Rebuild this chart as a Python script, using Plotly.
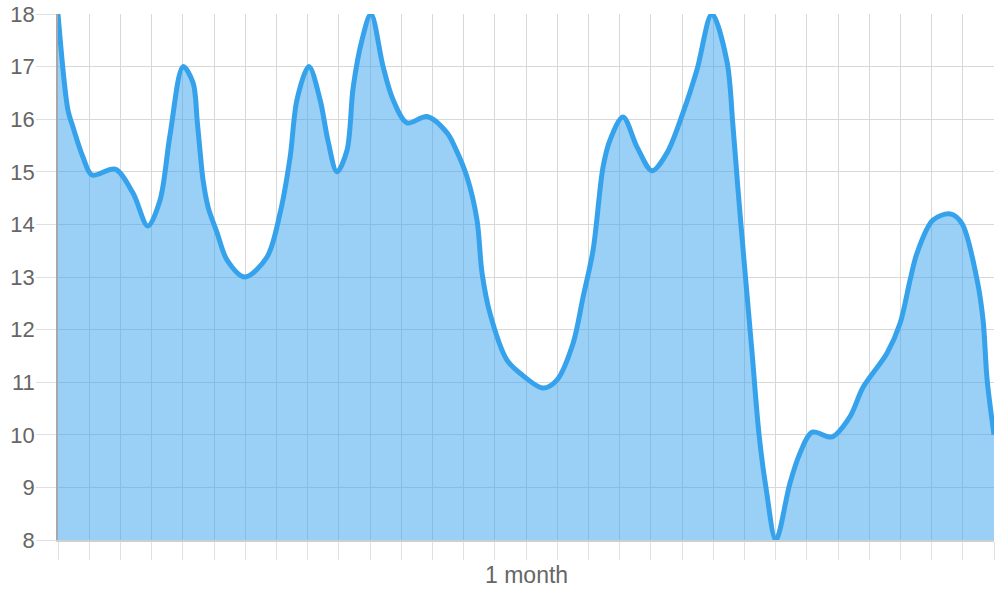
import plotly.graph_objects as go

# x positions in days (0 .. 30, one month)
days = [0, 0.32, 0.48, 0.80, 1.09, 1.83, 2.40, 2.88, 3.27, 3.59,
        4.01, 4.33, 4.46, 4.55, 4.65, 4.81, 5.10, 5.42, 5.99, 6.70,
        7.12, 7.44, 7.66, 8.04, 8.40, 8.65, 8.94, 9.26, 9.46, 9.74,
        10.03, 10.42, 10.74, 11.19, 11.83, 12.47, 12.72, 13.11, 13.43, 13.59,
        13.85, 14.39, 14.81, 15.54, 15.99, 16.51, 16.83, 17.15, 17.47, 17.69,
        18.11, 18.56, 19.04, 19.52, 20.03, 20.48, 20.96, 21.44, 21.63, 21.79,
        21.99, 22.24, 22.47, 22.69, 23.01, 23.46, 23.78, 24.17, 24.81, 25.38,
        25.80, 26.57, 26.99, 27.31, 27.53, 28.04, 28.59, 28.97, 29.46, 29.65,
        29.78, 30.0]
values = [18.0, 16.17, 15.85, 15.28, 14.94, 15.05, 14.6, 13.97, 14.46, 15.7,
          17.0, 16.69, 15.98, 15.41, 14.84, 14.33, 13.84, 13.32, 13.0, 13.38,
          14.22, 15.28, 16.37, 17.0, 16.37, 15.6, 15.0, 15.4, 16.6, 17.5,
          18.0, 17.0, 16.37, 15.93, 16.05, 15.74, 15.47, 14.9, 14.08, 13.08,
          12.3, 11.42, 11.17, 10.89, 11.04, 11.74, 12.62, 13.51, 15.09, 15.6,
          16.04, 15.47, 15.02, 15.36, 16.12, 16.94, 18.0, 17.1, 15.9, 14.7,
          13.3, 11.6, 10.0, 9.0, 8.0, 9.08, 9.65, 10.05, 9.96, 10.34,
          10.9, 11.55, 12.12, 12.94, 13.45, 14.08, 14.2, 14.02, 12.94, 12.18,
          11.04, 10.0]

x_title = "1 month"

fig = go.Figure()
fig.add_trace(go.Scatter(
    x=days, y=values, mode="lines",
    line=dict(color="rgb(54,162,235)", width=5, shape="spline", smoothing=0.9),
    fill="tozeroy", fillcolor="rgba(54,162,235,0.5)",
    hoverinfo="skip", showlegend=False, cliponaxis=False,
))

fig.update_layout(
    width=1000, height=600,
    margin=dict(l=58, r=6, t=14, b=60, autoexpand=False),
    paper_bgcolor="white", plot_bgcolor="white",
    font=dict(family="Liberation Sans, Arial, sans-serif", size=22, color="#666"),
    xaxis=dict(range=[0, 30], tick0=0, dtick=1, showticklabels=False, automargin=False,
               showgrid=True, gridcolor="#d8d8d8", gridwidth=1,
               ticks="outside", ticklen=18, tickcolor="#e0e0e0", tickwidth=1,
               showline=True, linecolor="#cfcfcf", linewidth=1.5, zeroline=False),
    yaxis=dict(range=[8, 18], tick0=8, dtick=1, automargin=False,
               showgrid=True, gridcolor="#d8d8d8", gridwidth=1,
               ticks="outside", ticklen=20, tickcolor="#e0e0e0", tickwidth=1,
               ticklabelstandoff=-3,
               showline=True, linecolor="#a8a8a8", linewidth=1.5, zeroline=False,
               tickfont=dict(size=22, color="#666")),
    annotations=[dict(text=x_title, xref="paper", yref="paper", x=0.5, y=0,
                      xanchor="center", yanchor="top", yshift=-20, showarrow=False,
                      font=dict(size=23, color="#666"))],
)

fig.write_html("out.html", config={"displayModeBar": False},
               post_script="document.body.style.margin='0';")
